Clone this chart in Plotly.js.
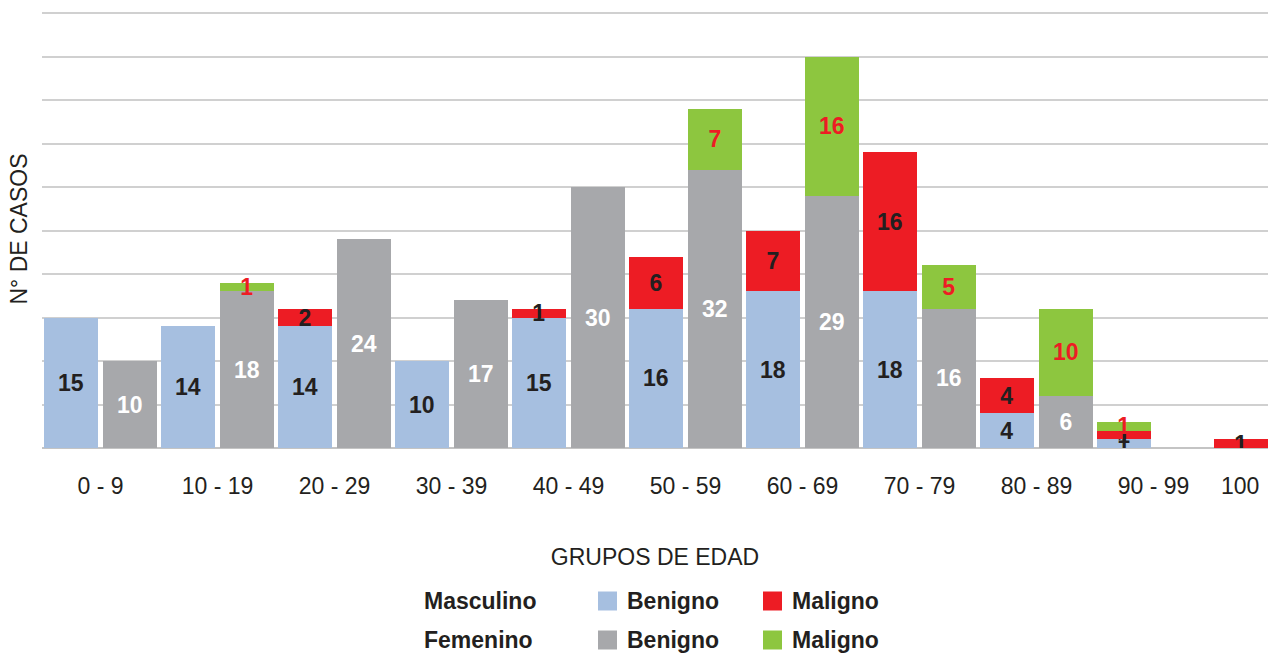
<!DOCTYPE html>
<html>
<head>
<meta charset="utf-8">
<script src="https://cdn.plot.ly/plotly-3.0.1.min.js"></script>
<style>html,body{margin:0;padding:0;background:#fff}#chart{width:1268px;height:654px}</style>
</head>
<body>
<div id="chart"></div>
<script>
// ---- data ----
var categories = ['0 - 9','10 - 19','20 - 29','30 - 39','40 - 49','50 - 59','60 - 69','70 - 79','80 - 89','90 - 99','100'];
var mascBenigno = [15, 14, 14, 10, 15, 16, 18, 18, 4, 1, 0];
var mascMaligno = [0, 0, 2, 0, 1, 6, 7, 16, 4, 1, 1];
var femBenigno  = [10, 18, 24, 17, 30, 32, 29, 16, 6, 0, 0];
var femMaligno  = [0, 1, 0, 0, 0, 7, 16, 5, 10, 1, 0];
var legendSexes = ['Masculino', 'Femenino'];
var legendTypes = ['Benigno', 'Maligno'];

// ---- style ----
var FONT = '"Liberation Sans", Arial, Helvetica, sans-serif';
var TXT = '#231f20';
var C_MB = '#a6bfe0', C_MM = '#ed1c24', C_FB = '#a7a8ab', C_FM = '#8dc63f';
var L = 42, T = 10, W = 1226, H = 438;
var PXU = 8.7;               // pixels per case
var UNIT = 117;
var BW = 53.7 / UNIT;
var OFF_M = (44 - 100.5) / UNIT;
var OFF_F = (103 - 100.5) / UNIT;

var xs = categories.map(function(c, i){ return i; });
function lbl(v){ return v ? String(v) : ''; }

// female malignant stacks on the male column when there is no female benign bar
var fmOffset = femMaligno.map(function(v, i){ return (femBenigno[i] === 0 && v > 0) ? OFF_M : OFF_F; });
var fmBase = femMaligno.map(function(v, i){ return (femBenigno[i] === 0 && v > 0) ? mascBenigno[i] + mascMaligno[i] : femBenigno[i]; });

function barTrace(name, y, base, offset, color, tcolor){
  return {
    type: 'bar', name: name, x: xs, y: y, base: base,
    offset: offset, width: BW,
    marker: {color: color, line: {width: 0}},
    text: y.map(lbl), textposition: 'inside', insidetextanchor: 'middle',
    textangle: 0, constraintext: 'none',
    textfont: {family: FONT, size: 23, color: tcolor, weight: 'bold'},
    hoverinfo: 'none', showlegend: false, cliponaxis: true
  };
}

var data = [
  barTrace('Masculino Benigno', mascBenigno, mascBenigno.map(function(){return 0;}), OFF_M, C_MB, TXT),
  barTrace('Masculino Maligno', mascMaligno, mascBenigno, OFF_M, C_MM, TXT),
  barTrace('Femenino Benigno', femBenigno, femBenigno.map(function(){return 0;}), OFF_F, C_FB, '#ffffff'),
  barTrace('Femenino Maligno', femMaligno, fmBase, fmOffset, C_FM, C_MM)
];

// tick positions: last label shifted under its visible (clipped) column
var tickPos = xs.map(function(i){ return i === categories.length - 1 ? i - 0.26 : i; });

function px(x){ return (x - L) / W; }
function py(y){ return (T + H - y) / H; }

var annotations = [], shapes = [];
var rowsY = [601, 640];
var swatch = [[C_MB, C_MM], [C_FB, C_FM]];
legendSexes.forEach(function(s, r){
  var cy = rowsY[r];
  annotations.push({xref:'paper', yref:'paper', x: px(422), y: py(cy), xanchor:'left', yanchor:'middle',
    text: '<b>' + s + '</b>', showarrow: false, font: {family: FONT, size: 23, color: TXT}});
  [[598, 625], [763, 790]].forEach(function(p, k){
    shapes.push({type:'rect', xref:'paper', yref:'paper', x0: px(p[0]), x1: px(p[0] + 19),
      y0: py(cy + 9.5), y1: py(cy - 9.5), fillcolor: swatch[r][k], line: {width: 0}});
    annotations.push({xref:'paper', yref:'paper', x: px(p[1]), y: py(cy), xanchor:'left', yanchor:'middle',
      text: '<b>' + legendTypes[k] + '</b>', showarrow: false, font: {family: FONT, size: 23, color: TXT}});
  });
});

var layout = {
  width: 1268, height: 654,
  margin: {l: L, r: 0, t: T, b: 654 - T - H},
  paper_bgcolor: '#ffffff', plot_bgcolor: '#ffffff',
  barmode: 'overlay', bargap: 0,
  font: {family: FONT, color: TXT},
  uniformtext: {mode: 'show', minsize: 23},
  showlegend: false,
  xaxis: {
    range: [-0.5, -0.5 + W / UNIT], fixedrange: true,
    tickmode: 'array', tickvals: tickPos, ticktext: categories,
    ticks: '', showgrid: false, zeroline: false, showline: false,
    tickfont: {family: FONT, size: 23, color: TXT},
    ticklabelstandoff: 22,
    title: {text: 'GRUPOS DE EDAD', font: {family: FONT, size: 23, color: TXT}, standoff: 50},
    automargin: false
  },
  yaxis: {
    range: [0, H / PXU], tickmode: 'linear', tick0: 0, dtick: 5, fixedrange: true,
    showticklabels: false, ticks: '',
    showgrid: true, gridcolor: '#d0d0d0', gridwidth: 2,
    zeroline: true, zerolinecolor: '#c4c4c4', zerolinewidth: 2,
    showline: false,
    title: {text: 'N° DE CASOS', font: {family: FONT, size: 23, color: TXT}, standoff: 6},
    automargin: false
  },
  annotations: annotations,
  shapes: shapes
};

Plotly.newPlot('chart', data, layout, {staticPlot: true, displayModeBar: false});
</script>
</body>
</html>
